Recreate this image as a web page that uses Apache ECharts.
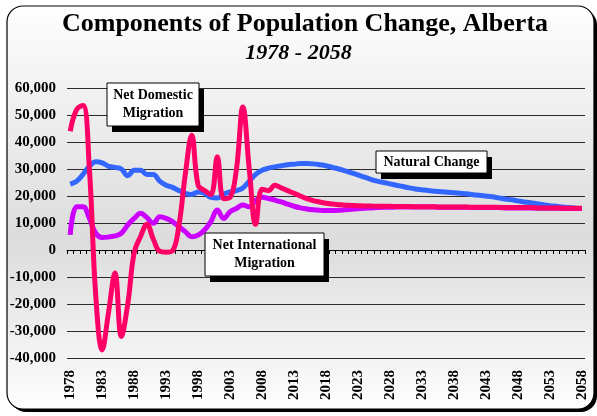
<!DOCTYPE html>
<html>
<head>
<meta charset="utf-8">
<script src="https://cdn.jsdelivr.net/npm/echarts@6/dist/echarts.min.js"></script>
<style>
html,body{margin:0;padding:0;background:#fff;}
#chart{width:597px;height:416px;}
</style>
</head>
<body>
<div id="chart"></div>
<script>
// ---- data ----
var years = [];
for (var y = 1978; y <= 2058; y++) years.push(String(y));

var naturalChange = [
  24400, 25500, 28000, 31000, 32700, 32300, 31000, 30600, 30000, 27500,
  29500, 29500, 28000, 28000, 25500, 24000, 23200, 22000, 21000, 20600,
  21500, 21000, 19500, 19300, 20700, 21500, 22000, 23000, 25500, 28000,
  29500, 30300, 30800, 31200, 31600, 31800, 32000, 32000, 31900, 31600,
  31200, 30600, 30000, 29300, 28600, 27800, 27000, 26200, 25500, 25000,
  24500, 24000, 23500, 23000, 22600, 22300, 22000, 21800, 21600, 21400,
  21200, 21000, 20800, 20500, 20300, 20000, 19700, 19300, 18900, 18600,
  18200, 17800, 17500, 17100, 16800, 16400, 16200, 15900, 15700, 15500,
  15400
];

var netInternational = [
  5600, 16000, 16000, 11700, 6200, 4600, 4800, 5200, 6200, 9300,
  11700, 13600, 12000, 9900, 12300, 11700, 10500, 8600, 6800, 4900,
  5500, 7400, 10500, 14800, 11700, 14200, 15400, 16700, 16000, 18300,
  19500, 19100, 18500, 17800, 17000, 16200, 15600, 15200, 14900, 14700,
  14600, 14600, 14700, 14900, 15100, 15300, 15500, 15600, 15700, 15800,
  15800, 15900, 15900, 15900, 15900, 15900, 15900, 15900, 15800, 15800,
  15800, 15800, 15800, 15700, 15700, 15700, 15700, 15700, 15600, 15600,
  15600, 15600, 15600, 15500, 15500, 15500, 15500, 15400, 15400, 15400,
  15400
];

var netDomestic = [
  44000, 52000, 53500, 30000, -17000, -37000, -23000, -8500, -32000, -20000,
  -1000, 5000, 9500, 4000, -500, -800, -300, 9000, 28000, 42500,
  24000, 22000, 20500, 34500, 19000, 19500, 30000, 53000, 30000, 9500,
  22500, 22000, 24000, 23000, 22000, 21000, 20000, 19000, 18300, 17800,
  17300, 17000, 16800, 16600, 16500, 16400, 16300, 16300, 16200, 16200,
  16200, 16100, 16100, 16100, 16000, 16000, 16000, 16000, 15900, 15900,
  15900, 15900, 15900, 15800, 15800, 15800, 15800, 15800, 15700, 15700,
  15700, 15700, 15700, 15600, 15600, 15600, 15600, 15500, 15500, 15500,
  15500
];

var yTicks = { min: -40000, max: 60000, interval: 10000 };
var dividerYear = '2008';

var titleText = 'Components of Population Change, Alberta';
var subtitleText = '1978 - 2058';
var labelDomestic = 'Net Domestic\nMigration';
var labelInternational = 'Net International\nMigration';
var labelNatural = 'Natural Change';

// ---- chart ----
var SERIF = '"Liberation Serif", "Times New Roman", serif';
var chart = echarts.init(document.getElementById('chart'), null, {renderer: 'canvas'});

function boxLabel(x, y, w, h, text) {
  return {
    type: 'group', x: x, y: y, z: 100,
    children: [
      {type: 'rect', shape: {x: 5, y: 6, width: w, height: h}, style: {fill: '#000'}, z: 100},
      {type: 'rect', shape: {x: 0, y: 0, width: w, height: h}, style: {fill: '#fff', stroke: '#000', lineWidth: 1}, z: 101},
      {type: 'text', x: w / 2, y: h / 2, z: 102,
        style: {text: text, fill: '#000', font: 'bold 14px ' + SERIF, align: 'center', verticalAlign: 'middle', lineHeight: 18}}
    ]
  };
}

var option = {
  backgroundColor: '#ffffff',
  animation: false,
  title: [
    {text: titleText, left: 300, textAlign: 'center', top: 6,
      textStyle: {fontFamily: SERIF, fontWeight: 'bold', fontSize: 26, color: '#000'}},
    {text: subtitleText, left: 'center', top: 37,
      textStyle: {fontFamily: SERIF, fontWeight: 'bold', fontStyle: 'italic', fontSize: 22, color: '#000'}}
  ],
  graphic: [
    {type: 'rect', z: -20, shape: {x: 10, y: 9, width: 587, height: 403, r: 16}, style: {fill: '#000'}},
    {type: 'rect', z: -19, shape: {x: 7, y: 6, width: 587, height: 403, r: 16},
      style: {
        stroke: '#000', lineWidth: 1.2,
        fill: new echarts.graphic.LinearGradient(0, 0, 0, 1, [
          {offset: 0, color: '#fefefe'},
          {offset: 0.58, color: '#dcdcdc'},
          {offset: 1, color: '#fefefe'}
        ])
      }},
    boxLabel(107, 83, 92, 43, labelDomestic),
    boxLabel(205, 233, 119, 43, labelInternational),
    boxLabel(376, 151, 111, 22, labelNatural)
  ],
  grid: {left: 67, right: 12, top: 88, bottom: 58, containLabel: false},
  xAxis: [
    {
      type: 'category', data: years, boundaryGap: true, position: 'bottom',
      axisLine: {show: false, onZero: false},
      axisTick: {show: false},
      axisLabel: {interval: 4, rotate: 90, margin: 12,
        fontFamily: SERIF, fontWeight: 'bold', fontSize: 15, color: '#000'},
      splitLine: {show: false}
    },
    {
      type: 'category', data: years, boundaryGap: true, position: 'bottom',
      axisLine: {show: true, onZero: true, lineStyle: {color: '#000', width: 1}},
      axisTick: {show: true, interval: 0, length: 4, inside: false, lineStyle: {color: '#000'}},
      axisLabel: {show: false},
      splitLine: {show: false}
    }
  ],
  yAxis: {
    type: 'value', min: yTicks.min, max: yTicks.max, interval: yTicks.interval,
    axisLine: {show: false}, axisTick: {show: false},
    axisLabel: {margin: 11, fontFamily: SERIF, fontWeight: 'bold', fontSize: 15, color: '#000',
      formatter: function (v) { return v.toLocaleString('en-US'); }},
    splitLine: {show: true, lineStyle: {color: '#2a2a2a', width: 1}}
  },
  series: [
    {name: 'Natural Change', type: 'line', data: naturalChange, smooth: 0.4, symbol: 'none',
      lineStyle: {color: '#3366FF', width: 5}, z: 3,
      markLine: {silent: true, symbol: 'none', label: {show: false},
        lineStyle: {color: '#000', width: 1, type: 'solid'},
        data: [[{coord: [dividerYear, 61000]}, {coord: [dividerYear, -39000]}]]}},
    {name: 'Net International Migration', type: 'line', data: netInternational, smooth: 0.4, symbol: 'none',
      lineStyle: {color: '#CC00FF', width: 5}, z: 4},
    {name: 'Net Domestic Migration', type: 'line', data: netDomestic, smooth: 0.4, symbol: 'none',
      lineStyle: {color: '#FF0066', width: 5}, z: 5}
  ]
};
chart.setOption(option);
</script>
</body>
</html>
